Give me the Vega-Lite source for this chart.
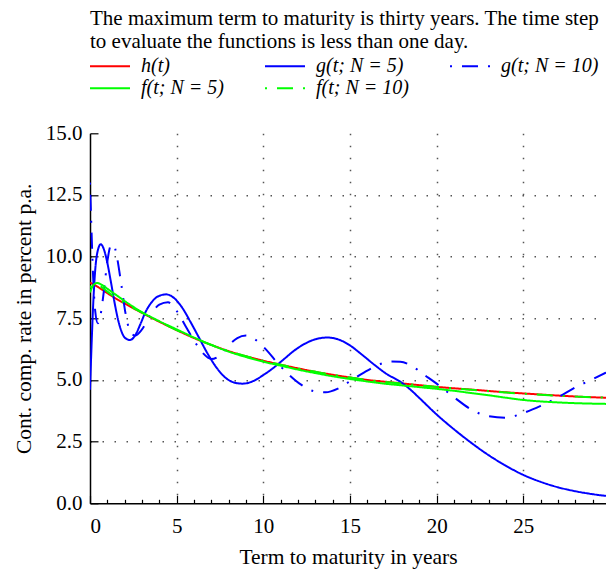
{
  "$schema": "https://vega.github.io/schema/vega-lite/v6.json",
  "width": 516,
  "height": 370,
  "autosize": {"type": "none"},
  "padding": {"left": 90, "top": 133.3, "right": 0, "bottom": 67.7},
  "background": "white",
  "title": {
    "text": ["The maximum term to maturity is thirty years. The time step", "to evaluate the functions is less than one day."],
    "anchor": "start",
    "frame": "group",
    "font": "Liberation Serif",
    "fontSize": 21,
    "fontWeight": "normal",
    "color": "black",
    "lineHeight": 23,
    "offset": 3
  },
  "config": {
    "font": "Liberation Serif",
    "view": {"stroke": null},
    "axis": {
      "domainColor": "black",
      "domainWidth": 1.5,
      "tickColor": "black",
      "tickWidth": 1.2,
      "labelColor": "black",
      "titleColor": "black",
      "labelFont": "Liberation Serif",
      "titleFont": "Liberation Serif",
      "labelFontSize": 21,
      "titleFontSize": 21.5,
      "titleFontWeight": "normal",
      "gridColor": "#555555",
      "gridDash": [1.5, 10.5],
      "gridWidth": 1.5,
      "gridOpacity": 1
    }
  },
  "data": {
    "values": [
      {"s":"a","t":0,"v":8.95},{"s":"a","t":0.5,"v":8.75},{"s":"a","t":1,"v":8.52},{"s":"a","t":1.5,"v":8.3},{"s":"a","t":2,"v":8.1},{"s":"a","t":3,"v":7.72},{"s":"a","t":4,"v":7.36},{"s":"a","t":5,"v":7.02},{"s":"a","t":6,"v":6.7},{"s":"a","t":7,"v":6.42},{"s":"a","t":8,"v":6.17},{"s":"a","t":9,"v":5.96},{"s":"a","t":10,"v":5.78},{"s":"a","t":11,"v":5.62},{"s":"a","t":12,"v":5.47},{"s":"a","t":13,"v":5.33},{"s":"a","t":14,"v":5.21},{"s":"a","t":15,"v":5.1},{"s":"a","t":16,"v":5.0},{"s":"a","t":17,"v":4.93},{"s":"a","t":18,"v":4.86},{"s":"a","t":19,"v":4.79},{"s":"a","t":20,"v":4.72},{"s":"a","t":22,"v":4.61},{"s":"a","t":24,"v":4.5},{"s":"a","t":26,"v":4.41},{"s":"a","t":28,"v":4.33},{"s":"a","t":29.77,"v":4.28},

      {"s":"b","t":0,"v":4.6},{"s":"b","t":0.1,"v":6.6},{"s":"b","t":0.2,"v":8.3},{"s":"b","t":0.3,"v":9.45},{"s":"b","t":0.45,"v":10.25},{"s":"b","t":0.62,"v":10.5},{"s":"b","t":0.8,"v":10.3},{"s":"b","t":1.0,"v":9.75},{"s":"b","t":1.2,"v":9.0},{"s":"b","t":1.4,"v":8.2},{"s":"b","t":1.6,"v":7.5},{"s":"b","t":1.8,"v":7.0},{"s":"b","t":2.0,"v":6.72},{"s":"b","t":2.3,"v":6.62},{"s":"b","t":2.6,"v":6.8},{"s":"b","t":2.9,"v":7.25},{"s":"b","t":3.2,"v":7.75},{"s":"b","t":3.5,"v":8.1},{"s":"b","t":3.9,"v":8.38},{"s":"b","t":4.4,"v":8.47},{"s":"b","t":4.8,"v":8.35},{"s":"b","t":5.3,"v":7.95},{"s":"b","t":5.8,"v":7.35},{"s":"b","t":6.3,"v":6.7},{"s":"b","t":6.8,"v":6.05},{"s":"b","t":7.3,"v":5.5},{"s":"b","t":7.8,"v":5.1},{"s":"b","t":8.3,"v":4.9},{"s":"b","t":8.8,"v":4.85},{"s":"b","t":9.4,"v":4.95},{"s":"b","t":10,"v":5.2},{"s":"b","t":10.6,"v":5.5},{"s":"b","t":11.2,"v":5.85},{"s":"b","t":11.8,"v":6.2},{"s":"b","t":12.4,"v":6.47},{"s":"b","t":13,"v":6.65},{"s":"b","t":13.7,"v":6.72},{"s":"b","t":14.3,"v":6.65},{"s":"b","t":15,"v":6.4},{"s":"b","t":15.7,"v":6.02},{"s":"b","t":16.4,"v":5.62},{"s":"b","t":17.1,"v":5.25},{"s":"b","t":17.9,"v":4.93},{"s":"b","t":18.5,"v":4.6},{"s":"b","t":19,"v":4.27},{"s":"b","t":20,"v":3.6},{"s":"b","t":21,"v":3.0},{"s":"b","t":22,"v":2.45},{"s":"b","t":23,"v":1.95},{"s":"b","t":24,"v":1.52},{"s":"b","t":25,"v":1.15},{"s":"b","t":26,"v":0.87},{"s":"b","t":27,"v":0.65},{"s":"b","t":28,"v":0.49},{"s":"b","t":29,"v":0.37},{"s":"b","t":29.77,"v":0.3},

      {"s":"c","t":0,"v":13.0},{"s":"c","t":0.08,"v":11.2},{"s":"c","t":0.18,"v":9.2},{"s":"c","t":0.3,"v":7.8},{"s":"c","t":0.45,"v":7.3},{"s":"c","t":0.6,"v":7.6},{"s":"c","t":0.8,"v":8.6},{"s":"c","t":1.0,"v":9.8},{"s":"c","t":1.2,"v":10.45},{"s":"c","t":1.35,"v":10.5},{"s":"c","t":1.55,"v":10.0},{"s":"c","t":1.8,"v":8.9},{"s":"c","t":2.05,"v":7.7},{"s":"c","t":2.3,"v":7.0},{"s":"c","t":2.6,"v":6.8},{"s":"c","t":3.0,"v":7.05},{"s":"c","t":3.5,"v":7.65},{"s":"c","t":4.0,"v":8.05},{"s":"c","t":4.5,"v":8.15},{"s":"c","t":5.0,"v":7.8},{"s":"c","t":5.5,"v":7.2},{"s":"c","t":6.0,"v":6.6},{"s":"c","t":6.5,"v":6.1},{"s":"c","t":7.0,"v":5.85},{"s":"c","t":7.5,"v":6.0},{"s":"c","t":8.0,"v":6.4},{"s":"c","t":8.5,"v":6.7},{"s":"c","t":9.0,"v":6.8},{"s":"c","t":9.5,"v":6.65},{"s":"c","t":10.2,"v":6.2},{"s":"c","t":10.8,"v":5.7},{"s":"c","t":11.5,"v":5.2},{"s":"c","t":12.2,"v":4.8},{"s":"c","t":12.9,"v":4.55},{"s":"c","t":13.6,"v":4.5},{"s":"c","t":14.3,"v":4.65},{"s":"c","t":15,"v":4.95},{"s":"c","t":15.8,"v":5.3},{"s":"c","t":16.6,"v":5.6},{"s":"c","t":17.3,"v":5.75},{"s":"c","t":17.9,"v":5.74},{"s":"c","t":18.6,"v":5.55},{"s":"c","t":19.3,"v":5.2},{"s":"c","t":20,"v":4.85},{"s":"c","t":21,"v":4.3},{"s":"c","t":22,"v":3.8},{"s":"c","t":23,"v":3.53},{"s":"c","t":24,"v":3.47},{"s":"c","t":25,"v":3.66},{"s":"c","t":26,"v":3.95},{"s":"c","t":27,"v":4.3},{"s":"c","t":28,"v":4.7},{"s":"c","t":29,"v":5.03},{"s":"c","t":29.77,"v":5.3},

      {"s":"d","t":0,"v":8.55},{"s":"d","t":0.2,"v":8.85},{"s":"d","t":0.4,"v":8.93},{"s":"d","t":0.7,"v":8.85},{"s":"d","t":1,"v":8.7},{"s":"d","t":1.5,"v":8.45},{"s":"d","t":2,"v":8.2},{"s":"d","t":3,"v":7.75},{"s":"d","t":4,"v":7.38},{"s":"d","t":5,"v":7.05},{"s":"d","t":6,"v":6.72},{"s":"d","t":7,"v":6.42},{"s":"d","t":8,"v":6.15},{"s":"d","t":9,"v":5.93},{"s":"d","t":10,"v":5.74},{"s":"d","t":11,"v":5.58},{"s":"d","t":12,"v":5.42},{"s":"d","t":13,"v":5.28},{"s":"d","t":14,"v":5.15},{"s":"d","t":15,"v":5.04},{"s":"d","t":16,"v":4.94},{"s":"d","t":17,"v":4.85},{"s":"d","t":18,"v":4.78},{"s":"d","t":19,"v":4.71},{"s":"d","t":20,"v":4.64},{"s":"d","t":21,"v":4.56},{"s":"d","t":22,"v":4.47},{"s":"d","t":23,"v":4.38},{"s":"d","t":24,"v":4.28},{"s":"d","t":25,"v":4.19},{"s":"d","t":26,"v":4.13},{"s":"d","t":27,"v":4.09},{"s":"d","t":28,"v":4.06},{"s":"d","t":29,"v":4.04},{"s":"d","t":29.77,"v":4.03},

      {"s":"e","t":0,"v":8.75},{"s":"e","t":0.3,"v":8.88},{"s":"e","t":0.6,"v":8.8},{"s":"e","t":1,"v":8.58},{"s":"e","t":1.5,"v":8.33},{"s":"e","t":2,"v":8.12},{"s":"e","t":3,"v":7.73},{"s":"e","t":4,"v":7.37},{"s":"e","t":5,"v":7.02},{"s":"e","t":6,"v":6.71},{"s":"e","t":7,"v":6.42},{"s":"e","t":8,"v":6.17},{"s":"e","t":9,"v":5.96},{"s":"e","t":10,"v":5.78},{"s":"e","t":11,"v":5.62},{"s":"e","t":12,"v":5.47},{"s":"e","t":13,"v":5.33},{"s":"e","t":14,"v":5.21},{"s":"e","t":15,"v":5.1},{"s":"e","t":16,"v":5.0},{"s":"e","t":17,"v":4.92},{"s":"e","t":18,"v":4.85},{"s":"e","t":19,"v":4.78},{"s":"e","t":20,"v":4.72},{"s":"e","t":22,"v":4.6},{"s":"e","t":24,"v":4.49},{"s":"e","t":26,"v":4.4},{"s":"e","t":28,"v":4.33},{"s":"e","t":29.77,"v":4.28}
    ]
  },
  "layer": [
    {
      "mark": {"type": "line", "opacity": 0},
      "encoding": {
        "x": {"field": "t", "type": "quantitative", "scale": {"domain": [0, 29.77], "nice": false, "zero": false},
              "axis": {"orient": "bottom", "values": [5, 10, 15, 20, 25], "grid": true, "labels": false, "ticks": false, "domain": false, "title": null}},
        "y": {"field": "v", "type": "quantitative", "scale": {"domain": [0, 15], "nice": false},
              "axis": {"orient": "left", "values": [2.5, 5, 7.5, 10, 12.5], "grid": true, "labels": false, "ticks": false, "domain": false, "title": null}},
        "detail": {"field": "s"}
      }
    },
    {
      "mark": {"type": "line", "opacity": 0},
      "encoding": {
        "x": {"field": "t", "type": "quantitative",
              "axis": {"orient": "bottom", "values": [1,2,3,4,6,7,8,9,11,12,13,14,16,17,18,19,21,22,23,24,26,27,28,29], "grid": false, "labels": false, "ticks": true, "tickSize": -4, "domain": false, "title": null}},
        "y": {"field": "v", "type": "quantitative", "axis": null},
        "detail": {"field": "s"}
      }
    },
    {
      "mark": {"type": "line", "strokeWidth": 2, "interpolate": "monotone", "clip": true},
      "encoding": {
        "x": {"field": "t", "type": "quantitative",
              "axis": {"orient": "bottom", "values": [0, 5, 10, 15, 20, 25], "grid": false, "tickSize": -8, "labelPadding": 20, "title": "Term to maturity in years", "titlePadding": 10}},
        "y": {"field": "v", "type": "quantitative",
              "axis": {"orient": "left", "values": [0, 2.5, 5, 7.5, 10, 12.5, 15], "format": ".1f", "grid": false, "tickSize": -8, "labelPadding": 16, "title": "Cont. comp. rate in percent p.a.", "titlePadding": 10}},
        "color": {
          "field": "s", "type": "nominal",
          "scale": {"domain": ["a", "b", "c", "d", "e"], "range": ["#ff0000", "#0000ff", "#0000ff", "#00ff00", "#00ff00"]},
          "legend": {
            "title": null, "orient": "none", "legendX": 9, "legendY": -78, "direction": "horizontal", "columns": 3,
            "symbolType": "M-2,0H2", "symbolSize": 400, "symbolStrokeWidth": 2,
            "labelFont": "Liberation Serif", "labelFontSize": 20, "labelFontStyle": "italic", "labelColor": "black",
            "labelOffset": 20, "columnPadding": 37, "rowPadding": 1, "labelLimit": 300,
            "labelExpr": "{'a':'h(t)','b':'g(t; N = 5)','c':'g(t; N = 10)','d':'f(t; N = 5)','e':'f(t; N = 10)'}[datum.value]"
          }
        },
        "strokeDash": {
          "field": "s", "type": "nominal",
          "scale": {"domain": ["a", "b", "c", "d", "e"], "range": [[1, 0], [1, 0], [2, 10, 16, 10], [1, 0], [2, 10, 16, 10]]},
          "legend": {
            "title": null, "orient": "none", "legendX": 9, "legendY": -78, "direction": "horizontal", "columns": 3,
            "symbolType": "M-2,0H2", "symbolSize": 400, "symbolStrokeWidth": 2,
            "labelFont": "Liberation Serif", "labelFontSize": 20, "labelFontStyle": "italic", "labelColor": "black",
            "labelOffset": 20, "columnPadding": 37, "rowPadding": 1, "labelLimit": 300,
            "labelExpr": "{'a':'h(t)','b':'g(t; N = 5)','c':'g(t; N = 10)','d':'f(t; N = 5)','e':'f(t; N = 10)'}[datum.value]"
          }
        }
      }
    }
  ],
  "resolve": {"axis": {"x": "independent", "y": "independent"}}
}
